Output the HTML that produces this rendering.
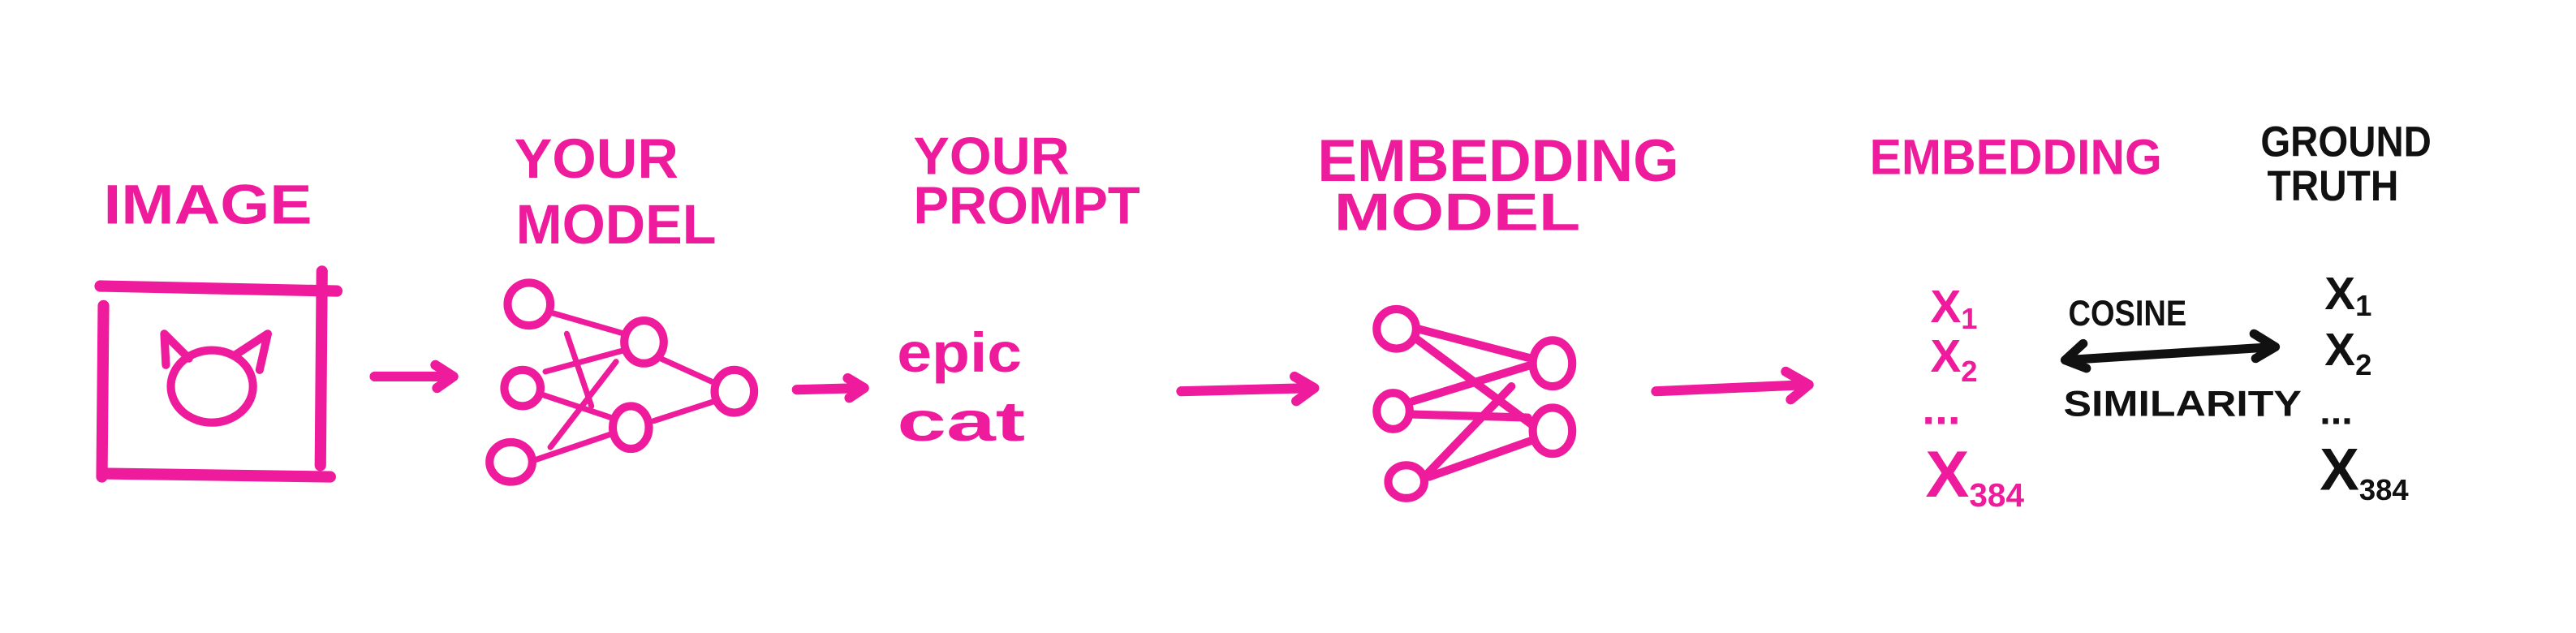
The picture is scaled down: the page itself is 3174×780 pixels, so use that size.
<!DOCTYPE html>
<html><head><meta charset="utf-8"><style>
html,body{margin:0;padding:0;background:#fff;}
svg{display:block;}
text{font-family:"Liberation Sans",sans-serif;font-weight:bold;}
</style></head><body>
<svg width="3174" height="780" viewBox="0 0 1568 385" preserveAspectRatio="none" xmlns="http://www.w3.org/2000/svg">
<rect width="1568" height="385" fill="#fff"/>
<g fill="#ee1c9c">
<text x="63" y="136" font-size="34" textLength="127" lengthAdjust="spacingAndGlyphs">IMAGE</text>
<text x="313" y="108" font-size="34" textLength="100" lengthAdjust="spacingAndGlyphs">YOUR</text>
<text x="314" y="148" font-size="34" textLength="122" lengthAdjust="spacingAndGlyphs">MODEL</text>
<text x="556" y="106" font-size="32" textLength="95" lengthAdjust="spacingAndGlyphs">YOUR</text>
<text x="556" y="136" font-size="32" textLength="138" lengthAdjust="spacingAndGlyphs">PROMPT</text>
<text x="802" y="110" font-size="36" textLength="220" lengthAdjust="spacingAndGlyphs">EMBEDDING</text>
<text x="812" y="140" font-size="32" textLength="150" lengthAdjust="spacingAndGlyphs">MODEL</text>
<text x="1138" y="106" font-size="30" textLength="178" lengthAdjust="spacingAndGlyphs">EMBEDDING</text>
<text x="546" y="226" font-size="34" textLength="76" lengthAdjust="spacingAndGlyphs">epic</text>
<text x="546" y="268" font-size="34" textLength="78" lengthAdjust="spacingAndGlyphs">cat</text>
<text x="1175" y="196" font-size="28">X<tspan font-size="18" dy="4">1</tspan></text>
<text x="1175" y="226" font-size="28">X<tspan font-size="18" dy="6">2</tspan></text>
<text x="1170" y="258" font-size="28">...</text>
<text x="1172" y="302" font-size="40">X<tspan font-size="20" dy="6">384</tspan></text>
</g>
<g fill="#111">
<text x="1376" y="95" font-size="26" textLength="104" lengthAdjust="spacingAndGlyphs">GROUND</text>
<text x="1380" y="122" font-size="26" textLength="80" lengthAdjust="spacingAndGlyphs">TRUTH</text>
<text x="1259" y="198" font-size="22" textLength="72" lengthAdjust="spacingAndGlyphs">COSINE</text>
<text x="1256" y="253" font-size="22" textLength="145" lengthAdjust="spacingAndGlyphs">SIMILARITY</text>
<text x="1415" y="188" font-size="28">X<tspan font-size="18" dy="4">1</tspan></text>
<text x="1415" y="222" font-size="28">X<tspan font-size="18" dy="6">2</tspan></text>
<text x="1412" y="258" font-size="24">...</text>
<text x="1412" y="298" font-size="36">X<tspan font-size="18" dy="6">384</tspan></text>
</g>
<g stroke="#111" stroke-width="5.5" fill="none" stroke-linecap="round" stroke-linejoin="round">
<line x1="1258" y1="219" x2="1384" y2="211"/>
<polyline points="1268,209 1257,219 1270,224"/>
<polyline points="1372,203 1385,211 1373,218"/>
</g>
<g stroke="#ee1c9c" fill="none" stroke-linecap="round" stroke-linejoin="round">
<g stroke-width="7">
<line x1="61" y1="174" x2="205" y2="177"/>
<line x1="196" y1="165" x2="195" y2="283"/>
<line x1="63" y1="186" x2="62" y2="290"/>
<line x1="63" y1="288" x2="201" y2="290"/>
</g>
<g stroke-width="5">
<ellipse cx="129" cy="235" rx="25" ry="22"/>
<polyline points="101,222 100,203 115,218"/>
<polyline points="143,216 163,203 158,225"/>
</g>
<g stroke-width="6">
<line x1="228" y1="229" x2="275" y2="229"/><polyline points="265,222 276,229 266,236"/>
<line x1="485" y1="237" x2="525" y2="236"/><polyline points="516,230 526,236 517,242"/>
<line x1="719" y1="238" x2="799" y2="236"/><polyline points="788,229 800,236 789,244"/>
<line x1="1008" y1="238" x2="1100" y2="234"/><polyline points="1087,226 1101,234 1090,243"/>
</g>
<g stroke-width="5">
<ellipse cx="322" cy="185" rx="13" ry="13"/>
<ellipse cx="392" cy="208" rx="12" ry="13"/>
<ellipse cx="318" cy="236" rx="11" ry="11"/>
<ellipse cx="447" cy="238" rx="12" ry="13"/>
<ellipse cx="384" cy="260" rx="11" ry="13"/>
<ellipse cx="311" cy="281" rx="13" ry="12"/>
</g>
<g stroke-width="3.5">
<line x1="335" y1="190" x2="380" y2="203"/>
<line x1="402" y1="218" x2="433" y2="232"/>
<line x1="435" y1="244" x2="398" y2="256"/>
<line x1="372" y1="264" x2="325" y2="280"/>
<line x1="330" y1="240" x2="372" y2="254"/>
<line x1="332" y1="226" x2="380" y2="213"/>
<line x1="345" y1="203" x2="360" y2="247"/>
<line x1="375" y1="220" x2="335" y2="272"/>
</g>
<g stroke-width="5">
<ellipse cx="850" cy="200" rx="12" ry="12"/>
<ellipse cx="945" cy="221" rx="12" ry="14"/>
<ellipse cx="848" cy="250" rx="10" ry="11"/>
<ellipse cx="945" cy="262" rx="12" ry="14"/>
<ellipse cx="856" cy="293" rx="11" ry="10"/>
<line x1="863" y1="200" x2="932" y2="218"/>
<line x1="862" y1="206" x2="932" y2="258"/>
<line x1="860" y1="244" x2="932" y2="222"/>
<line x1="860" y1="252" x2="930" y2="254"/>
<line x1="920" y1="235" x2="868" y2="289"/>
<line x1="870" y1="290" x2="932" y2="268"/>
</g>
</g>
</svg>
</body></html>
